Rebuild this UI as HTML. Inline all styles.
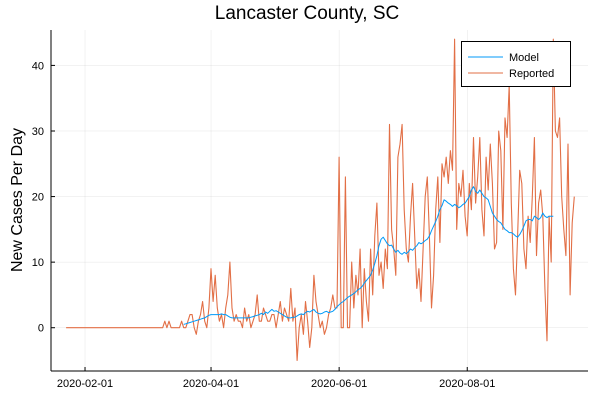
<!DOCTYPE html>
<html><head><meta charset="utf-8"><style>
body{margin:0;background:#fff;}
svg text{font-family:"Liberation Sans",sans-serif;}
</style></head><body>
<svg id="chart" width="600" height="400" viewBox="0 0 600 400">
<rect width="600" height="400" fill="#fff"/>
<text x="307" y="19" font-size="19" text-anchor="middle">Lancaster County, SC</text>
<text transform="translate(22,200) rotate(-90)" font-size="16" text-anchor="middle">New Cases Per Day</text>
<g id="grid"></g>
<g id="ticks"></g>
<g id="series"></g>
<line x1="51" y1="30" x2="51" y2="371" stroke="#000" stroke-width="1"/>
<line x1="51" y1="371" x2="588" y2="371" stroke="#000" stroke-width="1"/>
<g>
<rect x="461.5" y="41.5" width="109" height="45" fill="#fff" stroke="#000" stroke-width="1"/>
<line x1="468" y1="57" x2="503" y2="57" stroke="#009af9" stroke-width="1"/>
<text x="509" y="61" font-size="11">Model</text>
<line x1="468" y1="73" x2="503" y2="73" stroke="#e26f46" stroke-width="1"/>
<text x="509" y="77" font-size="11">Reported</text>
</g>
</svg>
<script>
const xTickLabels=["2020-02-01","2020-04-01","2020-06-01","2020-08-01"];
const xTickDays=[0,60,121,182];
const yTicks=[0,10,20,30,40];
const reportedStart=-9;
const reported=[0,0,0,0,0,0,0,0,0,0,0,0,0,0,0,0,0,0,0,0,0,0,0,0,0,0,0,0,0,0,0,0,0,0,0,0,0,0,0,0,0,0,0,0,0,0,0,
1,0,1,0,0,0,0,0,1,0,0,1,2,2,0,-1,1,2,4,1,0,3,
9,4,8,3,1,2,0,3,5,10,3,1,2,1,1,0,3,1,2,0,
1,2,5,1,1,3,2,1,1,2,2,0,2,4,1,3,2,1,6,1,
3,-5,0,2,-1,4,1,-3,0,8,4,2,0,1,-1,0,2,3,5,3,3,
26,0,0,23,0,0,10,3,8,5,12,0,9,4,1,12,5,14,19,8,10,6,12,9,31,15,12,8,26,28,
31,18,12,10,17,22,14,6,9,4,12,20,23,14,3,8,18,23,13,25,23,26,22,27,24,44,15,22,20,24,17,
14,22,18,29,19,23,29,18,14,26,21,28,22,12,13,30,27,15,32,29,37,19,9,5,14,24,22,12,9,17,13,20,29,11,19,21,17,6,
-2,17,10,44,30,29,32,20,15,11,28,5,16,20];
const modelStart=47;
const model=[0.5,0.6,0.7,0.8,0.9,1,1.1,1.2,1.3,1.4,1.5,1.7,1.9,
2,2,2,2,2,2.1,2,2,1.8,1.6,1.5,1.5,1.5,1.5,1.5,
1.5,1.5,1.5,1.5,1.6,1.7,1.8,1.9,2,2.2,2,2.4,2.2,2.5,2.8,2.5,2.6,2.4,2.2,2,1.8,1.6,1.5,1.5,1.6,
1.6,1.8,2,2.1,2,2.3,2.5,2.4,2.6,2.8,2.4,2.2,2.1,2.2,2.4,2.5,2.3,2.4,2.5,2.8,3.2,
3.5,3.8,4,4.3,4.6,4.8,5,5.2,5.5,5.8,6,6.3,6.8,7.2,7.6,8,8.8,9.8,11,12.5,13.5,13.8,13.3,12.8,12.5,12.6,12,11.5,11.8,11.4,
11.2,11.5,11.3,11.6,12,11.8,12.2,12.5,13,12.8,13,13.3,13.5,14,14.8,15.5,16.2,17,18,18.6,19.5,19.3,19,18.8,18.5,18.8,18.6,18.3,18.5,18.8,19,
19.5,20,21,21.5,20.8,20.5,21,20.5,20,19.8,19.5,18.5,17.5,17,16.5,16.2,16,15.5,15,14.8,14.5,14.5,14.3,14,13.8,14.2,14.8,15.5,16.3,16.5,16.5,16.3,17,16.8,16.5,16.8,17.5,17,16.8,17,17,17];

const X0=51,X1=588,Y0=371,Y1=30;
const tMin=-16.2,tMax=239.5,vMin=-6.6,vMax=45.4;
const xs=t=>X0+(t-tMin)/(tMax-tMin)*(X1-X0);
const ys=v=>Y0-(v-vMin)/(vMax-vMin)*(Y0-Y1);
const NS="http://www.w3.org/2000/svg";
const grid=document.getElementById('grid'),ticks=document.getElementById('ticks'),series=document.getElementById('series');
function mk(tag,attrs,parent){const e=document.createElementNS(NS,tag);for(const k in attrs)e.setAttribute(k,attrs[k]);parent.appendChild(e);return e;}
xTickDays.forEach((d,i)=>{
  const x=xs(d);
  const g=mk('line',{x1:x,y1:Y1,x2:x,y2:Y0,stroke:'#000','stroke-opacity':0.1,'stroke-width':0.5},grid);
  
  
  const tk=mk('line',{x1:x,y1:Y0,x2:x,y2:Y0-4,stroke:'#000','stroke-width':1},ticks);
  
  
  const t=mk('text',{x:x,y:Y0+16,'font-size':11,'text-anchor':'middle'},ticks);
  t.textContent=xTickLabels[i];
  
  
});
yTicks.forEach(v=>{
  const y=ys(v);
  const g=mk('line',{x1:X0,y1:y,x2:X1,y2:y,stroke:'#000','stroke-opacity':0.1,'stroke-width':0.5},grid);
  
  
  const tk=mk('line',{x1:X0,y1:y,x2:X0+4,y2:y,stroke:'#000','stroke-width':1},ticks);
  
  
  const t=mk('text',{x:X0-7,y:y+4,'font-size':11,'text-anchor':'end'},ticks);
  t.textContent=v;
  
  
});
const rp=reported.map((v,i)=>xs(reportedStart+i).toFixed(1)+','+ys(v).toFixed(1)).join(' ');
const r=mk('polyline',{points:rp,fill:'none',stroke:'#e26f46','stroke-width':1.1,'stroke-linejoin':'round'},series);


const mp=model.map((v,i)=>xs(modelStart+i).toFixed(1)+','+ys(v).toFixed(1)).join(' ');
const m=mk('polyline',{points:mp,fill:'none',stroke:'#009af9','stroke-width':1,'stroke-linejoin':'round'},series);


</script>
</body></html>
